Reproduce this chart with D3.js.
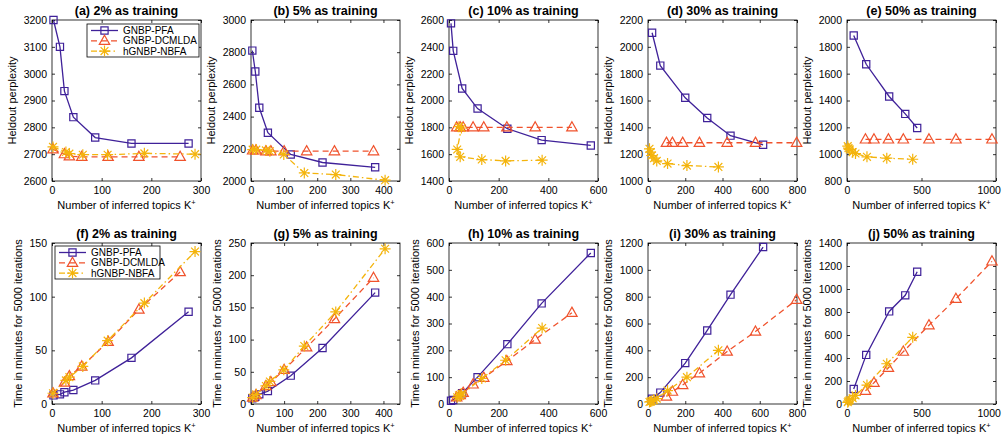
<!DOCTYPE html>
<html>
<head>
<meta charset="utf-8">
<script src="https://cdn.jsdelivr.net/npm/d3@7"></script>
<style>
body { margin: 0; background: #fff; }
svg { font-family: "Liberation Sans", Arial, Helvetica, sans-serif; }
</style>
</head>
<body>
<svg id="chart" width="1002" height="437"></svg>
<script>
// training splits and axis ticks
const splits = ["2%", "5%", "10%", "30%", "50%"];
const xTicks = [[0, 100, 200, 300], [0, 100, 200, 300, 400], [0, 200, 400, 600], [0, 200, 400, 600, 800], [0, 500, 1000]];
const xMax = [300, 450, 600, 800, 1000];
const pplTicks = [
    [2600, 2700, 2800, 2900, 3000, 3100, 3200],
    [2000, 2200, 2400, 2600, 2800, 3000],
    [1400, 1600, 1800, 2000, 2200, 2400, 2600],
    [1000, 1200, 1400, 1600, 1800, 2000, 2200],
    [800, 1000, 1200, 1400, 1600, 1800, 2000]
];
const timeTicks = [
    [0, 50, 100, 150],
    [0, 50, 100, 150, 200, 250],
    [0, 100, 200, 300, 400, 500, 600],
    [0, 200, 400, 600, 800, 1000, 1200],
    [0, 200, 400, 600, 800, 1000, 1200, 1400]
];

// 2% as training
const kPFA2 = [3, 16, 25, 43, 87, 160, 275];
const pplPFA2 = [3200, 3100, 2935, 2838, 2762, 2740, 2740];
const timePFA2 = [8, 9, 11, 13, 22, 43, 86];
const kDCM2 = [2, 25, 35, 60, 113, 175, 258];
const pplDCM2 = [2718, 2700, 2692, 2690, 2690, 2690, 2690];
const timeDCM2 = [10, 20, 26, 35, 58, 88, 123];
const kNB2 = [2, 28, 35, 62, 112, 186, 288];
const pplNB2 = [2727, 2708, 2702, 2698, 2698, 2703, 2700];
const timeNB2 = [10, 22, 25, 35, 59, 94, 142];

// 5% as training
const kPFA5 = [4, 13, 25, 51, 120, 216, 375];
const pplPFA5 = [2810, 2680, 2455, 2300, 2165, 2115, 2085];
const timePFA5 = [9, 11, 15, 20, 44, 87, 173];
const kDCM5 = [5, 15, 45, 60, 100, 168, 252, 370];
const pplDCM5 = [2190, 2190, 2185, 2185, 2185, 2185, 2185, 2185];
const timeDCM5 = [10, 14, 28, 34, 53, 88, 132, 196];
const kNB5 = [5, 16, 45, 57, 99, 161, 256, 405];
const pplNB5 = [2195, 2195, 2190, 2185, 2165, 2050, 2040, 2005];
const timeNB5 = [10, 15, 28, 35, 53, 90, 143, 241];

// 10% as training
const kPFA10 = [8, 17, 53, 115, 235, 373, 571];
const pplPFA10 = [2575, 2370, 2090, 1940, 1790, 1705, 1665];
const timePFA10 = [12, 15, 40, 100, 223, 375, 563];
const kDCM10 = [31, 45, 57, 97, 140, 233, 347, 495];
const pplDCM10 = [1800, 1800, 1800, 1800, 1800, 1800, 1800, 1800];
const timeDCM10 = [25, 33, 42, 73, 98, 160, 240, 340];
const kNB10 = [40, 50, 33, 45, 132, 228, 375];
const pplNB10 = [1805, 1795, 1635, 1580, 1560, 1550, 1555];
const timeNB10 = [32, 38, 25, 30, 95, 163, 283];

// 30% as training
const kPFA30 = [22, 66, 200, 318, 443, 618];
const pplPFA30 = [2105, 1860, 1620, 1470, 1338, 1270];
const timePFA30 = [40, 85, 305, 548, 815, 1170];
const kDCM30 = [99, 131, 186, 276, 425, 577, 798];
const pplDCM30 = [1285, 1285, 1285, 1285, 1285, 1285, 1285];
const timeDCM30 = [55, 92, 142, 229, 391, 540, 777];
const kNB30 = [8, 14, 20, 32, 47, 105, 209, 378];
const pplNB30 = [1240, 1215, 1190, 1170, 1150, 1130, 1115, 1105];
const timeNB30 = [15, 18, 22, 30, 40, 100, 200, 400];

// 50% as training
const kPFA50 = [45, 129, 283, 391, 471];
const pplPFA50 = [1885, 1670, 1430, 1300, 1195];
const timePFA50 = [130, 427, 805, 945, 1150];
const kDCM50 = [124, 181, 278, 378, 550, 731, 973];
const pplDCM50 = [1110, 1110, 1110, 1110, 1110, 1110, 1110];
const timeDCM50 = [115, 185, 315, 455, 685, 915, 1240];
const kNB50 = [5, 10, 18, 38, 57, 134, 267, 441];
const pplNB50 = [1060, 1045, 1035, 1015, 1005, 980, 970, 962];
const timeNB50 = [15, 25, 35, 50, 75, 165, 350, 580];

const kPFA = [kPFA2, kPFA5, kPFA10, kPFA30, kPFA50];
const kDCM = [kDCM2, kDCM5, kDCM10, kDCM30, kDCM50];
const kNB = [kNB2, kNB5, kNB10, kNB30, kNB50];
const pplPFA = [pplPFA2, pplPFA5, pplPFA10, pplPFA30, pplPFA50];
const pplDCM = [pplDCM2, pplDCM5, pplDCM10, pplDCM30, pplDCM50];
const pplNB = [pplNB2, pplNB5, pplNB10, pplNB30, pplNB50];
const timePFA = [timePFA2, timePFA5, timePFA10, timePFA30, timePFA50];
const timeDCM = [timeDCM2, timeDCM5, timeDCM10, timeDCM30, timeDCM50];
const timeNB = [timeNB2, timeNB5, timeNB10, timeNB30, timeNB50];

const methods = [
    {name: "GNBP-PFA", color: "#3f2199", dash: null, marker: "square"},
    {name: "GNBP-DCMLDA", color: "#f0522c", dash: "6,4", marker: "triangle"},
    {name: "hGNBP-NBFA", color: "#f4b40c", dash: "6,3,1.5,3", marker: "star"}
];

const markerPath = {
    square: "M-3.6,-3.6h7.2v7.2h-7.2z",
    triangle: "M0,-5.6L5.2,3.6L-5.2,3.6Z",
    star: "M-5.5,0H5.5M0,-5.5V5.5M-3.9,-3.9L3.9,3.9M-3.9,3.9L3.9,-3.9"
};

const lefts = [52, 251, 449, 648, 847];
const tops = [20, 243];
const W = 149, H = 161;
const letters = "abcdefghij";
const fmt = d3.format("d");

const svg = d3.select("#chart");

function drawPanel(row, col) {
    let left = lefts[col], top = tops[row];
    let yTicks = row === 0 ? pplTicks[col] : timeTicks[col];
    let ys = row === 0 ? [pplPFA[col], pplDCM[col], pplNB[col]] : [timePFA[col], timeDCM[col], timeNB[col]];
    let xs = [kPFA[col], kDCM[col], kNB[col]];

    let x = d3.scaleLinear().domain([0, xMax[col]]).range([0, W]);
    let y = d3.scaleLinear().domain([yTicks[0], yTicks[yTicks.length - 1]]).range([H, 0]);

    let g = svg.append("g").attr("transform", "translate(" + left + "," + top + ")");

    // axes, MATLAB style with ticks inside on all four sides
    g.append("g").attr("transform", "translate(0," + H + ")")
	.call(d3.axisBottom(x).tickValues(xTicks[col]).tickFormat(fmt).tickSize(-3).tickPadding(6));
    g.append("g")
	.call(d3.axisLeft(y).tickValues(yTicks).tickFormat(fmt).tickSize(-3).tickPadding(5));
    g.append("g").call(d3.axisTop(x).tickValues(xTicks[col]).tickSize(-3).tickFormat(""));
    g.append("g").attr("transform", "translate(" + W + ",0)")
	.call(d3.axisRight(y).tickValues(yTicks).tickSize(-3).tickFormat(""));
    g.selectAll(".domain").remove();
    g.selectAll(".tick line").attr("stroke", "#000").attr("stroke-width", 0.8);
    g.selectAll("g").attr("font-family", null);
    g.selectAll(".tick text").attr("font-size", 10.5).attr("fill", "#000");

    // keep the last tick label inside the window
    g.selectAll(".tick text").each(function() {
	let r = this.getBoundingClientRect();
	if (r.right > 1001) d3.select(this).attr("dx", -(r.right - 1001));
    });

    g.append("rect").attr("width", W).attr("height", H)
	.attr("fill", "none").attr("stroke", "#000").attr("stroke-width", 0.8);

    // series
    methods.forEach((m, i) => {
	let pts = xs[i].map((k, j) => [k, ys[i][j]]);
	g.append("path")
	    .attr("d", d3.line().x(d => x(d[0])).y(d => y(d[1]))(pts))
	    .attr("fill", "none")
	    .attr("stroke", m.color)
	    .attr("stroke-width", 1.3)
	    .attr("stroke-dasharray", m.dash);
	g.selectAll(null).data(pts).enter().append("path")
	    .attr("transform", d => "translate(" + x(d[0]) + "," + y(d[1]) + ")")
	    .attr("d", markerPath[m.marker])
	    .attr("fill", "none")
	    .attr("stroke", m.color)
	    .attr("stroke-width", 1.2);
    });

    // title
    g.append("text")
	.attr("x", W / 2).attr("y", -5)
	.attr("text-anchor", "middle")
	.attr("font-size", 12.5).attr("font-weight", "bold")
	.text("(" + letters[row * 5 + col] + ") " + splits[col] + " as training");

    // x label
    let xl = g.append("text")
	.attr("x", W / 2).attr("y", H + 28)
	.attr("text-anchor", "middle")
	.attr("font-size", 11);
    xl.append("tspan").text("Number of inferred topics K");
    xl.append("tspan").attr("dy", -4).attr("font-size", 7.5).text("+");

    // y label, placed past the widest tick label
    let digits = d3.max(yTicks, t => fmt(t).length);
    let yOff = -(12 + digits * 5.9);
    g.append("text")
	.attr("transform", "translate(" + yOff + "," + (H / 2) + ") rotate(-90)")
	.attr("text-anchor", "middle")
	.attr("font-size", 11)
	.text(row === 0 ? "Heldout perplexity" : "Time in minutes for 5000 iterations");

    if (col === 0) drawLegend(g, row);
}

function drawLegend(g, row) {
    let bx = row === 0 ? 35 : 3, by = row === 0 ? 4 : 3;
    let bw = row === 0 ? 112 : 105, bh = 33;
    let lg = g.append("g").attr("transform", "translate(" + bx + "," + by + ")");
    lg.append("rect").attr("width", bw).attr("height", bh)
	.attr("fill", "#fff").attr("stroke", "#000").attr("stroke-width", 0.8);
    methods.forEach((m, i) => {
	let cy = 6.5 + i * 10.3;
	lg.append("line")
	    .attr("x1", 4).attr("x2", 31).attr("y1", cy).attr("y2", cy)
	    .attr("stroke", m.color).attr("stroke-width", 1.3)
	    .attr("stroke-dasharray", m.dash);
	lg.append("path")
	    .attr("transform", "translate(17.5," + cy + ")")
	    .attr("d", markerPath[m.marker])
	    .attr("fill", "none").attr("stroke", m.color).attr("stroke-width", 1.2);
	lg.append("text")
	    .attr("x", 36).attr("y", cy + 3.5)
	    .attr("font-size", 10)
	    .text(m.name);
    });
}

for (let row = 0; row < 2; row++) {
    for (let col = 0; col < 5; col++) {
	drawPanel(row, col);
    }
}
</script>
</body>
</html>
